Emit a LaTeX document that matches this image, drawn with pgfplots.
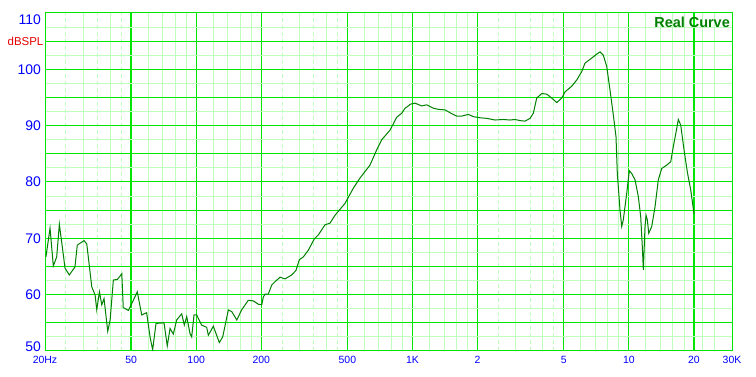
\documentclass[border=0pt]{standalone}
\usepackage{pgfplots}
\pgfplotsset{compat=1.18}
\usepackage{pgfplotstable}
\usepackage{fontspec}
\setmainfont{Liberation Sans}
\definecolor{gridmaj}{RGB}{0,230,0}
\definecolor{gridmin}{RGB}{190,255,190}
\definecolor{curve}{RGB}{0,128,0}
\definecolor{lblblue}{RGB}{0,0,255}
\definecolor{lblred}{RGB}{230,0,0}
\pgfplotstableread{
f db
20.2 66.7
21.1 71.8
21.85 65.1
22.65 66.7
23.3 72.5
24.15 67.9
24.75 64.7
25.9 63.5
27.5 64.9
28.2 68.8
30.3 69.6
31.2 69.0
32.9 61.4
34.1 59.9
34.7 57.3
35.7 60.5
36.6 58.2
37.5 59.3
39.0 53.5
40.0 55.5
41.4 62.6
43.2 62.7
45.3 63.7
46.0 57.7
48.6 57.2
51.2 59.0
53.4 60.5
56.0 56.4
59.0 56.8
61.2 52.5
62.9 50.2
65.2 54.9
71.0 55.0
73.5 50.9
75.7 54.0
78.4 53.0
81.2 55.5
85.7 56.6
88.1 54.6
90.4 56.1
93.6 53.1
95.3 52.5
97.7 56.4
100.5 56.4
106 54.6
111.8 54.2
113.8 52.8
120 54.4
127.9 51.5
132.6 52.5
140.8 57.3
146 57.0
154 55.5
162.3 57.3
174.1 59.0
183.6 58.9
193.8 58.3
200.9 58.2
204.3 59.6
208.1 60.1
215.5 60.1
223.4 61.7
231.4 62.3
244.1 63.1
257.5 62.8
276.4 63.5
289.3 64.3
299.7 66.2
312.8 66.7
329.9 67.9
351.6 69.9
366.9 70.6
394 72.4
415.6 72.7
438.3 74.1
487.5 76.2
532.5 78.9
571.8 80.7
636 83.0
683.1 85.7
720.5 87.5
787.1 89.2
845.4 91.5
891.7 92.2
923.6 93.1
956.6 93.5
974.1 93.8
1027 94.0
1103 93.5
1163 93.7
1248 93.1
1316 92.9
1414 92.8
1491 92.3
1601 91.7
1689 91.7
1812 92.0
1911 91.6
2052 91.4
2204 91.3
2407 91.0
2629 91.1
2823 91.0
2979 91.1
3141 90.9
3313 90.8
3494 91.3
3619 92.2
3752 94.9
3958 95.7
4174 95.6
4402 94.9
4643 94.1
4896 94.9
5071 96.0
5446 97.0
5743 98.1
6058 99.6
6273 101.1
6738 102.0
7106 102.7
7361 103.1
7624 102.5
7906 100.5
8187 96.3
8480 91.9
8727 88.0
8849 81.5
9107 75.0
9273 72.1
9433 73.3
9780 78.0
10055 82.0
10315 81.5
10684 80.4
11066 77.4
11352 73.8
11547 68.5
11671 64.4
11884 72.1
12011 74.1
12179 73.3
12361 70.9
12763 72.1
13219 75.6
13691 80.4
14196 82.4
14973 83.0
15624 83.6
16063 86.3
16654 89.5
16940 91.1
17378 90.1
17999 85.7
18643 81.8
19329 78.6
20019 74.4
}\curvedata
\begin{document}
\begin{tikzpicture}
\fill[white] (0,0) rectangle (756bp,377bp);
\path[use as bounding box] (0,0) rectangle (756bp,377bp);
% dashed light vertical grid lines
\begin{axis}[
  at={(45bp,26bp)}, anchor=south west,
  scale only axis, width=687bp, height=338bp,
  xmode=log, xmin=20, xmax=30000, ymin=50, ymax=110,
  axis line style={draw=none},
  tick style={draw=none},
  major tick length=0pt, minor tick length=0pt,
  xticklabels={}, ytick=\empty,
  grid=major,
  xtick={25,35,45,250,350,450,2500,3500,4500},
  every axis grid/.style={color=gridmin, line width=1bp, dash pattern=on 4bp off 3bp},
]
\end{axis}
% major vertical grid lines
\begin{axis}[
  at={(45bp,26bp)}, anchor=south west,
  scale only axis, width=687bp, height=338bp,
  xmode=log, xmin=20, xmax=30000, ymin=50, ymax=110,
  axis line style={draw=none},
  tick style={draw=none},
  major tick length=0pt, minor tick length=0pt,
  xticklabels={}, ytick=\empty,
  grid=major,
  xtick={50,100,200,500,1000,2000,5000,10000,20000},
  every axis grid/.style={color=gridmaj, line width=1.2bp},
]
\end{axis}
\begin{axis}[
  at={(45bp,26bp)}, anchor=south west,
  scale only axis, width=687bp, height=338bp,
  xmode=log, xmin=20, xmax=30000, ymin=50, ymax=110,
  axis line style={color=gridmaj, line width=1bp},
  tick style={draw=none},
  major tick length=0pt, minor tick length=0pt,
  xtick={20,50,100,200,500,1000,2000,5000,10000,20000,30000},
  xticklabels={20Hz,50,100,200,500,1K,2,5,10,20,30K},
  minor xtick={30,40,60,70,80,90,120,140,160,180,300,400,600,700,800,900,1200,1400,1600,1800,3000,4000,6000,7000,8000,9000,12000,14000,16000,18000,22000,25000},
  ytick={50,55,60,65,70,75,80,85,90,95,100,105,110},
  yticklabels={\raisebox{-1bp}[0pt][0pt]{50},,60,,70,,80,,90,,100,,\raisebox{-12bp}[0pt][0pt]{110}},
  minor ytick={52.5,57.5,62.5,67.5,72.5,77.5,82.5,87.5,92.5,97.5,102.5,107.5},
  xmajorgrids=false, xminorgrids=true, ymajorgrids=true, yminorgrids=true,
  every axis grid/.style={line width=1bp},
  every major grid/.style={color=gridmaj},
  every minor grid/.style={color=gridmin},
  xticklabel style={font=\fontsize{10.5}{12}\selectfont, text=lblblue, inner sep=0pt, anchor=north},
  xticklabel shift=5bp,
  yticklabel style={font=\fontsize{14}{16}\selectfont, text=lblblue, inner sep=0pt, anchor=east},
  yticklabel shift=4bp,
  clip mode=individual,
]
\addplot[color=curve, line width=1bp, mark=none] table[x=f, y=db] {\curvedata};
\node[anchor=north east, inner sep=0pt, text=curve, font=\fontsize{14.5}{16}\selectfont\bfseries] at (rel axis cs:1,1) [xshift=-2bp, yshift=-4bp] {Real Curve};
\node[anchor=east, inner sep=0pt, text=lblred, font=\fontsize{11.5}{13}\selectfont] at (rel axis cs:0,0.9167) [xshift=-1.5bp] {dBSPL};
\end{axis}
\end{tikzpicture}
\end{document}
